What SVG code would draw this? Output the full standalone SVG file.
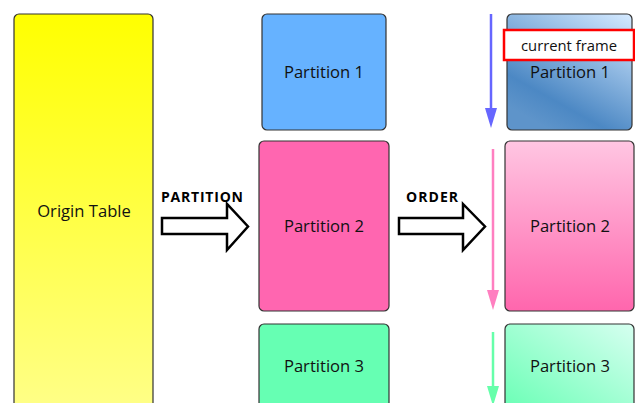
<svg xmlns="http://www.w3.org/2000/svg" width="635" height="403" viewBox="0 0 635 403">
<defs>
<linearGradient id="gYellow" x1="0" y1="0" x2="0" y2="1"><stop offset="0" stop-color="#ffff00"/><stop offset="1" stop-color="#ffff90"/></linearGradient>
<linearGradient id="gBlue" x1="0.95" y1="0" x2="0.35" y2="1"><stop offset="0" stop-color="#d2e8ff"/><stop offset="0.8" stop-color="#4c88c4"/><stop offset="1" stop-color="#5e94ca"/></linearGradient>
<linearGradient id="gPink" x1="0" y1="0" x2="0" y2="1"><stop offset="0" stop-color="#ffc6e2"/><stop offset="1" stop-color="#ff66ad"/></linearGradient>
<linearGradient id="gGreen" x1="1" y1="0" x2="0.2" y2="1"><stop offset="0" stop-color="#d6fff0"/><stop offset="1" stop-color="#66ffb3"/></linearGradient>
<style>
.box{stroke:#333;stroke-width:1.2}
.lbl{font-family:"Open Sans","Noto Sans",sans-serif;font-size:16.6px;fill:#111;text-anchor:middle}
.bold{font-family:"Open Sans","Noto Sans",sans-serif;font-size:14px;font-weight:bold;fill:#000}
.big{fill:#fff;stroke:#000;stroke-width:2.5;stroke-linejoin:miter}
</style>
</defs>
<g id="origin"><rect class="box" x="14" y="14" width="139" height="420" rx="5" fill="url(#gYellow)" stroke="#555" stroke-width="1.5"/><text class="lbl" x="84" y="217">Origin Table</text></g>
<g id="p1"><rect class="box" x="262" y="14" width="124" height="116" rx="5" fill="#66b2ff"/><text class="lbl" x="324" y="78">Partition 1</text></g>
<g id="p2"><rect class="box" x="259" y="141" width="130" height="170" rx="5" fill="#ff66b0"/><text class="lbl" x="324" y="232">Partition 2</text></g>
<g id="p3"><rect class="box" x="259" y="324" width="130" height="110" rx="5" fill="#66ffb3"/><text class="lbl" x="324" y="372">Partition 3</text></g>
<g id="q1"><rect class="box" x="507" y="14" width="125" height="116" rx="5" fill="url(#gBlue)"/><text class="lbl" x="570" y="78">Partition 1</text></g>
<g id="q2"><rect class="box" x="505" y="141" width="129" height="170" rx="5" fill="url(#gPink)"/><text class="lbl" x="570" y="232">Partition 2</text></g>
<g id="q3"><rect class="box" x="505" y="324" width="129" height="110" rx="5" fill="url(#gGreen)"/><text class="lbl" x="570" y="372">Partition 3</text></g>
<g id="frame"><rect x="504" y="30" width="130" height="30" fill="#fff" stroke="#ff0000" stroke-width="2.5"/><text class="lbl" x="569" y="51" style="font-size:14.8px">current frame</text></g>
<g id="connectors">
<path class="big" d="M162 218 H227 V204 L248 226.5 L227 250 V234 H162 Z"/>
<text class="bold" x="161" y="202" textLength="82" lengthAdjust="spacing">PARTITION</text>
<path class="big" d="M399 218 H463 V204 L485 226.5 L463 250 V234 H399 Z"/>
<text class="bold" x="406" y="202" textLength="52" lengthAdjust="spacing">ORDER</text>
<line x1="491" y1="14" x2="491" y2="110" stroke="#6666ff" stroke-width="2.5"/>
<path d="M485 108 H497 L491 128 Z" fill="#6666ff"/>
<line x1="493" y1="149" x2="493" y2="292" stroke="#ff7fc0" stroke-width="2.5"/>
<path d="M487 290 H499 L493 310 Z" fill="#ff7fc0"/>
<line x1="493" y1="332" x2="493" y2="390" stroke="#66ffaa" stroke-width="2.5"/>
<path d="M487 386 H499 L493 406 Z" fill="#66ffaa"/>
</g>
</svg>
